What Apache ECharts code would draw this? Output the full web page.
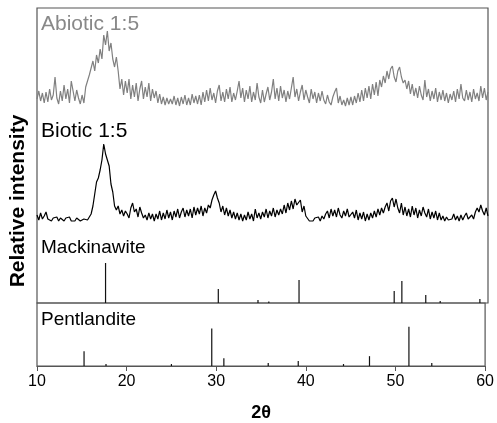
<!DOCTYPE html>
<html>
<head>
<meta charset="utf-8">
<script src="https://cdn.jsdelivr.net/npm/echarts@6/dist/echarts.min.js"></script>
<style>
  html, body { margin: 0; padding: 0; background: #fff; }
  #chart { width: 497px; height: 423px; }
</style>
</head>
<body>
<div id="chart"></div>
<script>
// 2-theta grid of the measured patterns
const thetaStart = 10;
const thetaStep = 0.2;

// Abiotic 1:5 (counts above its own baseline), 10 -> 60 deg, step 0.2
const abiotic = [
  8, 16, 6, 14, 4,   15, 5, 18, 7, 12,   30, 9, 3, 16, 6,   22, 8, 18, 4, 26,
  24, 6, 17, 9, 3,   12, 4, 20, 26, 32,   30, 46, 36, 52, 44,   58, 48, 72, 62, 76,
  56, 64, 48, 40, 50,   36, 18, 28, 12, 26,   14, 28, 8, 22, 10,   24, 6, 18, 26, 8,
  20, 10, 24, 6, 18,   9, 16, 4, 13, 3,   10, 2, 9, 3, 8,   3, 11, 2, 9, 1,
  10, 3, 12, 2, 9,   2, 13, 4, 11, 3,   12, 2, 15, 5, 17,   6, 19, 7, 14, 4,
  16, 22, 6, 15, 5,   18, 8, 20, 5, 14,   7, 16, 26, 9, 19,   5, 17, 8, 21, 5,
  15, 7, 24, 10, 4,   17, 5, 13, 20, 7,   15, 28, 8, 19, 6,   21, 9, 17, 5, 16,
  8, 19, 30, 10, 18,   6, 15, 22, 7, 17,   10, 4, 18, 8, 15,   4, 14, 6, 16, 7,
  3, 12, 5, 2, 10,   15, 19, 4, 11, 2,   7, 1, 9, 2, 10,   2, 11, 4, 14, 5,
  17, 6, 19, 9, 21,   8, 23, 12, 25, 11,   27, 20, 31, 24, 36,   28, 38, 41, 30, 25,
  36, 40, 30, 24, 27,   18, 26, 13, 23, 11,   19, 9, 21, 12, 7,   27, 10, 18, 6, 16,
  8, 19, 5, 15, 7,   17, 6, 14, 4, 13,   7, 16, 5, 18, 8,   23, 9, 6, 17, 7,
  15, 5, 18, 8, 14,   6, 21, 9, 19, 7,   15
];

// Biotic 1:5 (counts above its own baseline), 10 -> 60 deg, step 0.2
const biotic = [
  7, 2, 9, 3, 6,   10, 3, 5, 1, 4,   2, 5, 1, 4, 2,   1, 4, 2, 5, 1,
  3, 1, 4, 2, 1,   0, 3, 1, 2, 4,   8, 16, 28, 40, 44,   52, 62, 78, 68, 62,
  56, 38, 30, 16, 12,   16, 8, 12, 6, 11,   8, 4, 14, 19, 10,   13, 5, 15, 9, 4,
  7, 2, 9, 3, 8,   1, 8, 3, 11, 2,   9, 3, 12, 4, 10,   2, 11, 5, 13, 4,
  10, 14, 5, 12, 6,   13, 4, 15, 7, 14,   8, 16, 6, 14, 9,   17, 14, 22, 27, 31,
  24, 19, 10, 16, 7,   14, 6, 12, 4, 10,   3, 9, 2, 8, 1,   7, 2, 10, 3, 8,
  1, 13, 4, 9, 3,   10, 5, 13, 4, 11,   6, 14, 5, 12, 7,   13, 8, 17, 9, 19,
  12, 21, 13, 23, 17,   18, 22, 10, 16, 6,   4, 1, 3, 1, 4,   2, 5, 1, 6, 3,
  8, 11, 4, 13, 6,   12, 5, 14, 7, 4,   11, 6, 13, 5, 3,   10, 4, 12, 2, 9,
  3, 10, 1, 8, 2,   9, 4, 11, 5, 13,   7, 14, 9, 15, 19,   11, 21, 24, 15, 23,
  14, 9, 19, 7, 15,   6, 13, 5, 16, 7,   14, 4, 12, 6, 15,   9, 5, 13, 3, 10,
  4, 11, 2, 9, 2,   6, 1, 5, 2, 4,   3, 8, 2, 6, 1,   7, 2, 6, 9, 3,
  2, 7, 3, 10, 14,   10, 17, 11, 7, 14,   6
];

// Reference stick patterns
const mackinawitePos = [17.6, 30.1, 34.5, 35.7, 39.05, 49.6, 50.45, 53.1, 54.7, 59.1];
const mackinawiteInt = [40, 14, 3, 1.5, 23, 12, 22, 8, 2, 4];
const pentlanditePos = [15.25, 17.7, 25.0, 29.5, 30.85, 35.8, 39.15, 44.2, 47.1, 51.5, 54.05];
const pentlanditeInt = [15, 2, 2, 38, 8, 3, 5, 2, 10, 40, 3];

const xTicks = [10, 20, 30, 40, 50, 60];

// vertical stacking of the traces in the upper panel
const abioticOffset = 196;
const bioticOffset = 81;

const font = '"Liberation Sans", Arial, sans-serif';

function toXY(arr, off) {
  return arr.map((v, i) => [+(thetaStart + i * thetaStep).toFixed(2), v + off]);
}
function sticks(pos, inten) {
  return pos.map((p, i) => [p, inten[i]]);
}
function stickItem(params, api) {
  const p0 = api.coord([api.value(0), 0]);
  const p1 = api.coord([api.value(0), api.value(1)]);
  return {
    type: 'line',
    shape: { x1: p0[0], y1: p0[1], x2: p1[0], y2: p1[1] },
    style: { stroke: '#111', lineWidth: 1.2 }
  };
}

const chart = echarts.init(document.getElementById('chart'));

const option = {
  animation: false,
  grid: [
    { left: 37, right: 9, top: 8, height: 295, show: true, borderColor: '#555', borderWidth: 1.2 },
    { left: 37, right: 9, top: 303, height: 64, show: true, borderColor: '#555', borderWidth: 1.2 }
  ],
  xAxis: [
    { gridIndex: 0, type: 'value', min: xTicks[0], max: xTicks[xTicks.length - 1], show: false },
    {
      gridIndex: 1, type: 'value', min: xTicks[0], max: xTicks[xTicks.length - 1], interval: 10,
      axisLine: { show: true, lineStyle: { color: '#555', width: 1.2 } },
      axisTick: { show: true, inside: false, length: 5, lineStyle: { color: '#555' } },
      splitLine: { show: false },
      axisLabel: { color: '#000', fontSize: 16, fontFamily: font, margin: 8 },
      name: '2θ', nameLocation: 'middle', nameGap: 38,
      nameTextStyle: { color: '#000', fontSize: 18, fontWeight: 'bold', fontFamily: font }
    }
  ],
  yAxis: [
    { gridIndex: 0, type: 'value', min: 0, max: 295, show: false },
    { gridIndex: 1, type: 'value', min: 0, max: 64, show: false }
  ],
  series: [
    {
      name: 'Abiotic 1:5', type: 'line', xAxisIndex: 0, yAxisIndex: 0,
      data: toXY(abiotic, abioticOffset), showSymbol: false,
      lineStyle: { color: '#808080', width: 1.2 }
    },
    {
      name: 'Biotic 1:5', type: 'line', xAxisIndex: 0, yAxisIndex: 0,
      data: toXY(biotic, bioticOffset), showSymbol: false,
      lineStyle: { color: '#000', width: 1.2 }
    },
    {
      name: 'Mackinawite', type: 'custom', xAxisIndex: 0, yAxisIndex: 0,
      data: sticks(mackinawitePos, mackinawiteInt), renderItem: stickItem
    },
    {
      name: 'Pentlandite', type: 'custom', xAxisIndex: 1, yAxisIndex: 1,
      data: sticks(pentlanditePos, pentlanditeInt), renderItem: stickItem
    }
  ],
  graphic: [
    { type: 'text', x: 41, y: 24.5, style: { text: 'Abiotic 1:5', fill: '#888', font: '21px ' + font, textVerticalAlign: 'middle' } },
    { type: 'text', x: 41, y: 131, style: { text: 'Biotic 1:5', fill: '#000', font: '21px ' + font, textVerticalAlign: 'middle' } },
    { type: 'text', x: 41, y: 248, style: { text: 'Mackinawite', fill: '#000', font: '19px ' + font, textVerticalAlign: 'middle' } },
    { type: 'text', x: 41, y: 320, style: { text: 'Pentlandite', fill: '#000', font: '19px ' + font, textVerticalAlign: 'middle' } },
    {
      type: 'text', x: 18, y: 201, rotation: Math.PI / 2,
      style: { text: 'Relative intensity', fill: '#000', font: 'bold 21px ' + font, textAlign: 'center', textVerticalAlign: 'middle' }
    }
  ]
};

chart.setOption(option);
</script>
</body>
</html>
